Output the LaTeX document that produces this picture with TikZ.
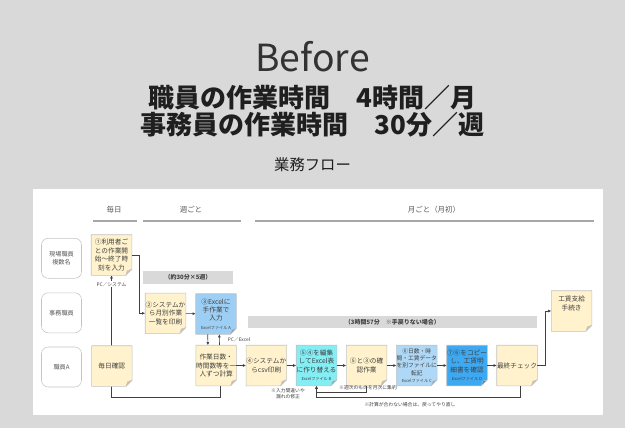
\documentclass[tikz,border=0pt]{standalone}
\usepackage{fontspec}
\setmainfont{Noto Sans CJK JP}
\usetikzlibrary{arrows.meta,calc}
\definecolor{bggray}{HTML}{D9D9D9}
\definecolor{ctext}{HTML}{404040}
\definecolor{ttext}{HTML}{1F1F1F}
\definecolor{btext}{HTML}{333333}
\definecolor{hdrtext}{HTML}{595959}
\definecolor{hdrline}{HTML}{A6A6A6}
\definecolor{boxline}{HTML}{C4C4C4}
\definecolor{yel}{HTML}{FFF2CC}
\definecolor{blueA}{HTML}{9DCFF5}
\definecolor{cyanB}{HTML}{84EEF5}
\definecolor{blueC}{HTML}{AED8F5}
\definecolor{blueD}{HTML}{3DA9F2}
\definecolor{glab}{HTML}{D9D9D9}
\pgfdeclarelayer{bg}
\pgfdeclarelayer{lines}
\pgfdeclarelayer{shapes}
\pgfsetlayers{bg,lines,shapes,main}
\newcommand\foldbox[2]{%
  \begin{pgfonlayer}{shapes}
  \filldraw[fill=#2,draw=boxline,line width=0.4pt,line join=round]
    (#1.north west) -- (#1.north east) -- ($(#1.south east)+(0,-6)$)
    -- ($(#1.south east)+(-6,0)$) -- (#1.south west) -- cycle;
  \filldraw[fill=#2!80!black,draw=boxline,line width=0.3pt,line join=round]
    ($(#1.south east)+(0,-6)$) -- ($(#1.south east)+(-6,0)$)
    -- ($(#1.south east)+(-4.5,-4.5)$) -- cycle;
  \end{pgfonlayer}}
\begin{document}
\begin{tikzpicture}[x=0.75pt,y=-0.75pt,
  box/.style={minimum width=30pt,minimum height=30pt,inner sep=0pt,align=center,text=ctext,font=\fontsize{5}{6.3}\selectfont},
  role/.style={draw=boxline,fill=white,rounded corners=5pt,minimum width=30pt,minimum height=30pt,inner sep=0pt,align=center,text=hdrtext,font=\fontsize{4.6}{5.8}\selectfont},
  glabel/.style={fill=glab,inner sep=0pt,text=ctext,font=\bfseries\fontsize{4.5}{5.5}\selectfont},
  note/.style={text=ctext,inner sep=0.5pt,align=center,font=\fontsize{3.6}{4.4}\selectfont},
  hdr/.style={text=hdrtext,font=\fontsize{5.6}{6.6}\selectfont},
  hline/.style={draw=hdrline,line width=0.8pt},
  conn/.style={draw=ctext,line width=0.45pt,-{Latex[length=2.4pt,width=2.2pt]}},
]
\useasboundingbox (0,0) rectangle (625,428);
\begin{pgfonlayer}{bg}
  \fill[bggray] (0,0) rectangle (625,428);
  \fill[white] (33,189) rectangle (603,415);
\end{pgfonlayer}

% titles
\node[text=btext,font=\fontsize{28}{32}\selectfont] (before) at (312.5,57) {Before};
\node[text=ttext,font=\bfseries\fontsize{19.5}{23}\selectfont] (t1) at (312.5,98) {職員の作業時間　4時間／月};
\node[text=ttext,font=\bfseries\fontsize{19.5}{23}\selectfont] (t2) at (312.5,125) {事務員の作業時間　30分／週};
\node[text=ttext,font=\fontsize{11.5}{14}\selectfont] (flow) at (312.5,165) {業務フロー};

% headers
\node[hdr] (hd1) at (114,210) {毎日};
\node[hdr] (hd2) at (191,210) {週ごと};
\node[hdr] (hd3) at (434,210) {月ごと（月初）};
\draw[hline] (93,221) -- (137,221);
\draw[hline] (143,221) -- (241,221);
\draw[hline] (255,221) -- (593.5,221);

% roles
\node[role] (r1) at (61.5,258.3) {現場職員\\複数名};
\node[role] (r2) at (61.5,312.8) {事務職員};
\node[role] (r3) at (61.5,367) {職員A};

% boxes
\node[box] (b1) at (111.5,255) {①利用者ご\\との作業開\\始～終了時\\刻を入力};
\node[box] (b2) at (165.5,313.3) {②システムか\\ら月別作業\\一覧を印刷};
\node[box] (b3) at (216,314) {③Excelに\\手作業で\\入力\\{\fontsize{3.1}{3.8}\selectfont Excelファイル A}};
\node[box] (bday) at (111.8,366) {毎日確認};
\node[box] (bcalc) at (216.2,365.5) {作業日数・\\時間数等を一\\人ずつ計算};
\node[box] (b4) at (266.3,365.5) {④システムか\\らcsv印刷};
\node[box] (b5) at (316.5,365.5) {⑤④を編集\\してExcel表\\に作り替える\\{\fontsize{3.1}{3.8}\selectfont Excelファイル B}};
\node[box] (b53) at (366.6,365.5) {⑤と③の確\\認作業};
\node[box,font=\fontsize{4.3}{5.5}\selectfont] (b6) at (416.8,365.5) {⑥日数・時\\間・工賃データ\\を別ファイルに\\転記\\{\fontsize{3.1}{3.8}\selectfont Excelファイル C}};
\node[box] (b7) at (467,365.5) {⑦⑥をコピー\\し、工賃明\\細書を確認\\{\fontsize{3.1}{3.8}\selectfont Excelファイル D}};
\node[box] (bfin) at (517,365.5) {最終チェック};
\node[box] (bpay) at (571.6,311) {};
\node[box,anchor=north,minimum width=0pt,minimum height=0pt] (bpaytxt) at ($(bpay.north)+(0,5)$) {工賃支給\\手続き};

\foldbox{b1}{yel}
\foldbox{b2}{yel}
\foldbox{b3}{blueA}
\foldbox{bday}{yel}
\foldbox{bcalc}{yel}
\foldbox{b4}{yel}
\foldbox{b5}{cyanB}
\foldbox{b53}{yel}
\foldbox{b6}{blueC}
\foldbox{b7}{blueD}
\foldbox{bfin}{yel}
\foldbox{bpay}{yel}

% gray labels
\node[glabel,minimum width=67.5pt,minimum height=9.75pt] (g1) at (188,277.5) {（約30分×5週）};
\node[glabel,minimum width=217.2pt,minimum height=9pt] (g2) at (392.4,322) {（3時間57分　※手戻りない場合）};

% connectors
\draw[conn] (b1.east) -- ++(7.5,0) |- (b2.west);
\draw[conn] (b2) -- (b3);
\draw[conn] ($(b3.south)+(-8.3,0)$) -- ($(bcalc.north)+(-8.3,0)$);
\draw[conn] ($(bcalc.north)+(3.3,0)$) -- ($(b3.south)+(3.3,0)$);
\node[note] (pcx) at (239,339.5) {PC／Excel};
\draw[conn] (bcalc) -- (b4);
\draw[conn] (b4) -- (b5);
\draw[conn] (b5) -- (b53);
\draw[conn] (b53) -- (b6);
\draw[conn] (b6) -- (b7);
\draw[conn] (b7) -- (bfin);
\draw[conn] (bfin.east) -- ++(8,0) |- (bpay.west);
\begin{pgfonlayer}{lines}
\draw[conn] ($(bcalc.south)+(4.5,0)$) -- ++(0,11.5) -| (b1.south);
\end{pgfonlayer}
\node[note,fill=white] (pcs) at (111.5,284.3) {PC／システム};
\draw[conn] (b53.south) -- ++(0,7) -| (b5.south);
\draw[conn] ($(bfin.south)+(3,0)$) -- ++(0,11.5) -| (b5.south);

% notes
\node[note] (n1) at (288,394) {※入力間違いや\\漏れの修正};
\node[note] (n2) at (368,388) {※週次のものを月次に集約};
\node[note] (n3) at (410,405) {※計算が合わない場合は、戻ってやり直し};
\end{tikzpicture}
\end{document}
